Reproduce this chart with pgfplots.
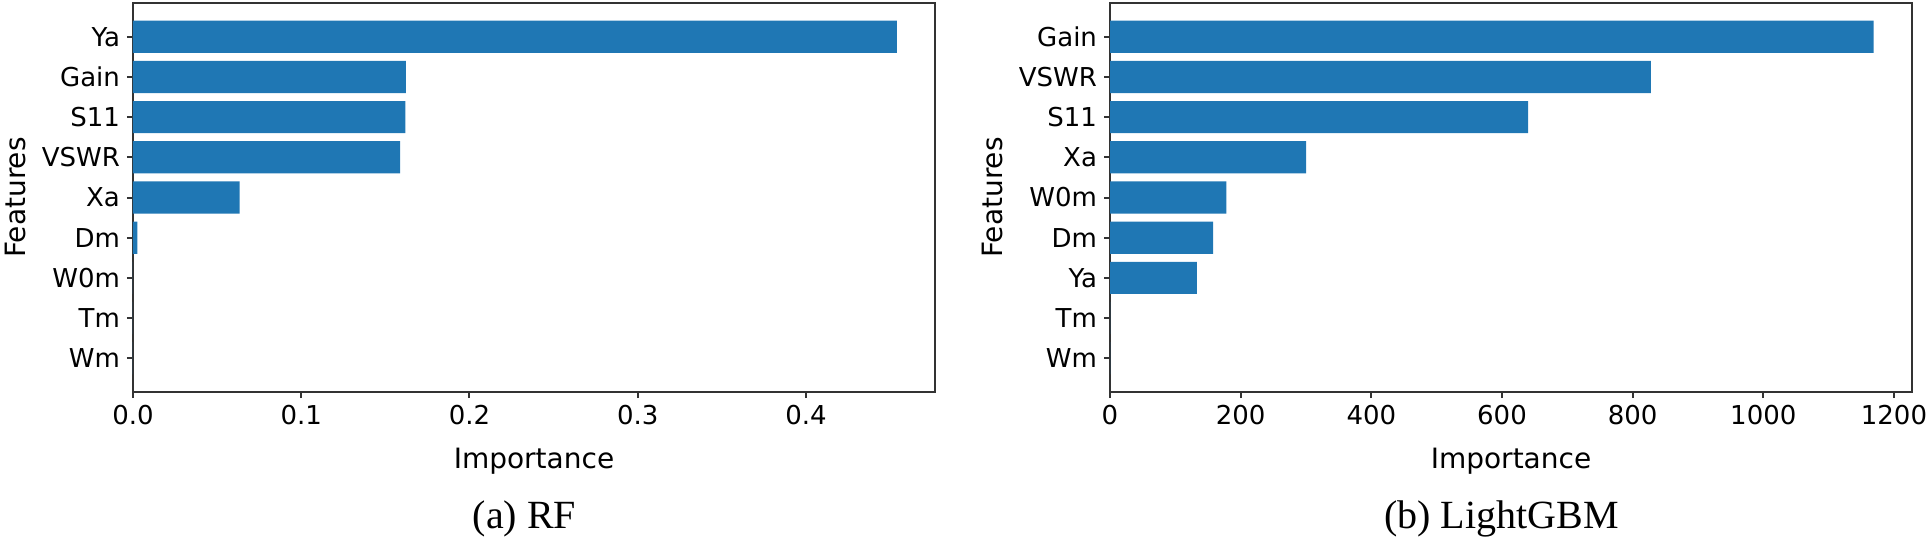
\documentclass[border=0pt]{standalone}
\usepackage{pgfplots}
\pgfplotsset{compat=1.18}
\usepackage{fontspec}
\setmainfont{DejaVu Sans}
\newfontfamily\capfont{Liberation Serif}
\definecolor{mplblue}{HTML}{1F77B4}

\pgfplotsset{
  imp/.style={
    scale only axis, width=401pt, height=194.5pt,
    xbar, bar width=0.8,
    ymin=-0.84, ymax=8.84, xmin=0,
    ytick={0,...,8},
    tick align=outside, xtick pos=bottom, ytick pos=left,
    major tick length=3pt,
    axis line style={black!80, line width=1pt},
    every tick/.style={black!80, line width=1pt},
    ticklabel style={font=\fontsize{13}{15}\selectfont},
    label style={font=\fontsize{14}{16}\selectfont},
    /pgf/number format/assume math mode=true,
    xlabel=Importance, ylabel=Features,
    xlabel style={at={(axis description cs:0.5,-0.1954)}, anchor=base},
    ylabel style={at={(axis description cs:-0.1596,0.5)}, anchor=north, inner sep=0pt},
  },
}
\tikzset{capnode/.style={anchor=base, inner sep=0pt, font=\capfont\fontsize{20}{24}\selectfont}}

\begin{document}
\begin{tikzpicture}
\useasboundingbox (-66.5pt,-77pt) rectangle (898.5pt,196pt);

% (a) RF
\begin{axis}[imp,
  xmax=0.4767,
  xtick={0,0.1,0.2,0.3,0.4},
  xticklabel style={/pgf/number format/fixed, /pgf/number format/fixed zerofill, /pgf/number format/precision=1},
  yticklabels={Wm,Tm,W0m,Dm,Xa,VSWR,S11,Gain,Ya},
]
\addplot[fill=mplblue, draw=none] coordinates {
(0,0) (0,1) (0,2) (0.0026,3) (0.0634,4) (0.1587,5) (0.1619,6) (0.1622,7) (0.454,8)
};
\end{axis}

% (b) LightGBM
\begin{axis}[imp, at={(488.5pt,0pt)},
  xmax=1227.6,
  xtick={0,200,...,1200},
  xticklabel style={/pgf/number format/1000 sep={}},
  yticklabels={Wm,Tm,Ya,Dm,W0m,Xa,S11,VSWR,Gain},
]
\addplot[fill=mplblue, draw=none] coordinates {
(0,0) (0,1) (133,2) (158,3) (178,4) (300,5) (640,6) (828,7) (1169,8)
};
\end{axis}

\node[capnode] at (195.75pt,-68pt) {(a) RF};
\node[capnode] at (684.25pt,-68pt) {(b) LightGBM};
\end{tikzpicture}
\end{document}
